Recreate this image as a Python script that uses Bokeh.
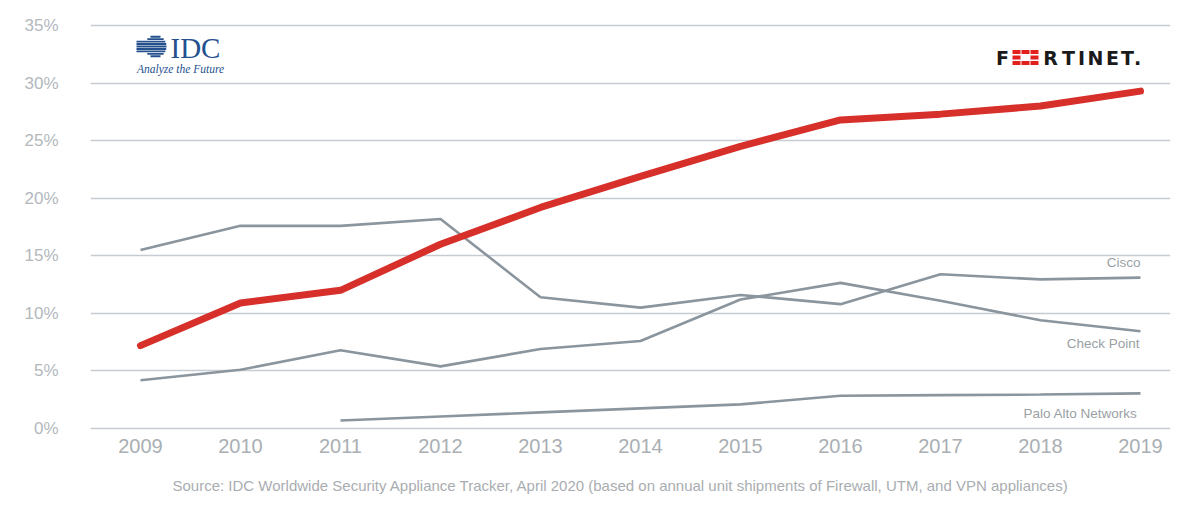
import numpy as np
from bokeh.plotting import figure
from bokeh.models import Range1d, FixedTicker, Title
from bokeh.embed import file_html
from bokeh.resources import INLINE
from bokeh.core.properties import value

# ---------------- data ----------------
years = [2009, 2010, 2011, 2012, 2013, 2014, 2015, 2016, 2017, 2018, 2019]
fortinet = [7.2, 10.9, 12.0, 16.0, 19.2, 21.9, 24.5, 26.8, 27.3, 28.0, 29.3]
cisco = [15.5, 17.6, 17.6, 18.2, 11.4, 10.5, 11.6, 10.8, 13.4, 12.95, 13.1]
check_point = [4.2, 5.1, 6.8, 5.4, 6.9, 7.6, 11.2, 12.65, 11.1, 9.4, 8.45]
palo_alto_years = [2011, 2012, 2013, 2014, 2015, 2016, 2017, 2018, 2019]
palo_alto = [0.7, 1.05, 1.4, 1.75, 2.1, 2.85, 2.9, 2.95, 3.05]
y_ticks = [0, 5, 10, 15, 20, 25, 30, 35]
y_tick_labels = [f"{t}%" for t in y_ticks]
series_labels = ["Cisco", "Check Point", "Palo Alto Networks"]
source_text = ("Source: IDC Worldwide Security Appliance Tracker, April 2020 "
               "(based on annual unit shipments of Firewall, UTM, and VPN appliances)")

# ---------------- figure ----------------
W, H = 1200, 515
FL, FR, FT, FB = 90, 30, 20, 85
x0, x1 = 2008.5, 2019.3
y0, y1 = -0.17, 35.43

p = figure(width=W, height=H, output_backend="svg", toolbar_location=None,
           x_range=Range1d(x0, x1), y_range=Range1d(y0, y1),
           min_border_left=FL, min_border_right=FR, min_border_top=FT,
           min_border_bottom=FB)
p.outline_line_color = None
p.background_fill_color = "white"
p.border_fill_color = "white"

# px -> data helpers (for logo / label placement only)
fw = W - FL - FR
fh = H - FT - FB
def dx(px):
    return x0 + (px - FL) / fw * (x1 - x0)
def dy(py):
    return y1 - (py - FT) / fh * (y1 - y0)

FONT = "Liberation Sans"
TICK_COL = "#a9afb4"

p.xgrid.grid_line_color = None
p.ygrid.grid_line_color = "#c6ccd1"
p.ygrid.grid_line_width = 1.6
p.ygrid.ticker = FixedTicker(ticks=y_ticks)

ax = p.xaxis[0]
ax.ticker = FixedTicker(ticks=years)
ax.axis_line_color = None
ax.major_tick_line_color = None
ax.minor_tick_line_color = None
ax.major_tick_out = 0
ax.major_tick_in = 0
ax.major_label_standoff = 8
ax.major_label_text_font = FONT
ax.major_label_text_font_size = "20px"
ax.major_label_text_color = TICK_COL

ay = p.yaxis[0]
ay.ticker = FixedTicker(ticks=y_ticks)
ay.major_label_overrides = {t: l for t, l in zip(y_ticks, y_tick_labels)}
ay.axis_line_color = None
ay.major_tick_line_color = None
ay.minor_tick_line_color = None
ay.major_tick_out = 0
ay.major_tick_in = 0
ay.major_label_standoff = 32
ay.major_label_text_font = FONT
ay.major_label_text_font_size = "17px"
ay.major_label_text_color = "#b3b8bd"

# ---------------- lines ----------------
GRAY = "#8b959d"
p.line(years, cisco, line_color=GRAY, line_width=2.6)
p.line(years, check_point, line_color=GRAY, line_width=2.6)
p.line(palo_alto_years, palo_alto, line_color=GRAY, line_width=2.6)
p.line(years, fortinet, line_color="#d7302b", line_width=7,
       line_cap="round", line_join="round")

# series labels
lab_x = [dx(1140), dx(1139), dx(1137)]
lab_y = [dy(262), dy(343), dy(413)]
p.text(lab_x, lab_y, text=series_labels, text_align="right",
       text_baseline="middle", text_font=value(FONT),
       text_font_size="13.5px", text_color="#9a9fa4")

# ---------------- IDC logo ----------------
NAVY = "#24508e"
cx, cy, r = 155, 46, 11
ys = np.linspace(cy - r + 1.2, cy + r - 1.2, 9)
hw = np.sqrt(np.clip(r**2 - (ys - cy)**2, 0, None))
xl = np.where(np.abs(ys - cy) < 6, 136, cx - hw)
p.segment(x0=[dx(v) for v in xl], y0=[dy(v) for v in ys],
          x1=[dx(v) for v in cx + hw], y1=[dy(v) for v in ys],
          line_color=NAVY, line_width=1.9)
p.text([dx(170)], [dy(47)], text=["IDC"], text_align="left",
       text_baseline="middle", text_font=value("Liberation Serif"),
       text_font_size="29px", text_color=NAVY)
p.text([dx(180)], [dy(68)], text=["Analyze the Future"], text_align="center",
       text_baseline="middle", text_font=value("Liberation Serif"),
       text_font_style="italic", text_font_size="11.5px", text_color=NAVY)

# ---------------- FORTINET logo ----------------
letters = ["F", "R", "T", "I", "N", "E", "T", "."]
lx = [1002, 1050, 1068, 1081, 1095, 1112, 1127, 1137]
p.text([dx(v) for v in lx], [dy(57)] * len(lx), text=letters,
       text_align="center", text_baseline="middle",
       text_font=value("DejaVu Sans"), text_font_style="bold",
       text_font_size="19px", text_color="#1a1a1a")
sq_x, sq_y = [], []
for i, yy in enumerate([51.5, 57, 62.5]):
    for j, xx in enumerate([1016, 1025, 1034]):
        if i == 1 and j == 1:
            continue
        sq_x.append(dx(xx))
        sq_y.append(dy(yy))
p.rect(sq_x, sq_y, width=8, height=4.2, width_units="screen",
       height_units="screen", fill_color="#e2211c", line_color=None)

# ---------------- source ----------------
src = Title(text=source_text, align="left", offset=82, text_font=FONT,
            text_font_size="15px", text_color="#a9adb1",
            text_font_style="normal", standoff=39)
p.add_layout(src, "below")

open("out.html", "w").write(file_html(p, INLINE))
